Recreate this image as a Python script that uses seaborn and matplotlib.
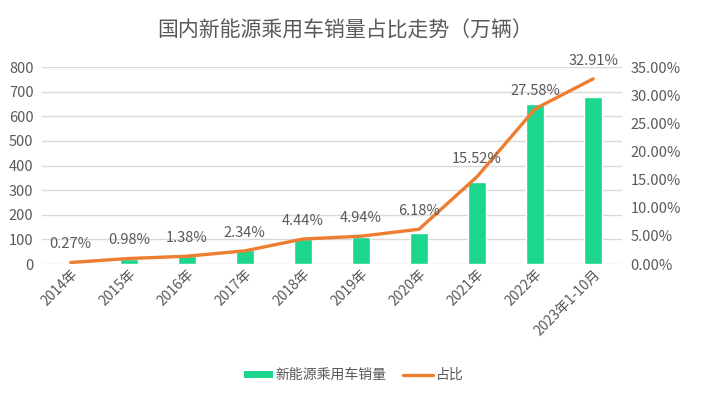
import numpy as np
import pandas as pd
import matplotlib
matplotlib.use("Agg")
import matplotlib.pyplot as plt
import seaborn as sns
from matplotlib.ticker import FuncFormatter
from matplotlib.patches import Patch
from matplotlib.lines import Line2D

# data
years = ["2014年", "2015年", "2016年", "2017年", "2018年", "2019年",
         "2020年", "2021年", "2022年", "2023年1-10月"]
sales = [5, 22, 31, 56, 100, 110, 126, 333, 649, 678]
share = [0.27, 0.98, 1.38, 2.34, 4.44, 4.94, 6.18, 15.52, 27.58, 32.91]

bar_color = "#1BD68C"
line_color = "#ED7D31"
text_color = "#595959"
grid_color = "#D9D9D9"

sns.set_theme(style="white")
plt.rcParams["font.family"] = ["Noto Sans CJK SC", "DejaVu Sans"]
plt.rcParams["axes.unicode_minus"] = False

df = pd.DataFrame({"year": years, "sales": sales, "share": share})
df["pos"] = np.arange(len(df))

fig = plt.figure(figsize=(7.07, 3.97), dpi=100)
ax = fig.add_axes([0.059, 0.335, 0.821, 0.496])

sns.barplot(data=df, x="year", y="sales", color=bar_color, width=0.31,
            saturation=1, ax=ax, zorder=2)
ax.set_ylim(0, 800)
ax.set_yticks(range(0, 801, 100))
ax.set_xlim(-0.5, len(years) - 0.5)
ax.grid(axis="y", color=grid_color, linewidth=1, zorder=0)
ax.set_axisbelow(True)
for s in ax.spines.values():
    s.set_visible(False)
ax.set_xlabel("")
ax.set_ylabel("")
ax.tick_params(axis="y", labelsize=10.5, colors=text_color, length=0, pad=6)
ax.tick_params(axis="x", labelsize=10, colors=text_color, length=0, pad=2)
plt.setp(ax.get_xticklabels(), rotation=45, ha="right", rotation_mode="anchor")

ax2 = ax.twinx()
sns.lineplot(data=df, x="pos", y="share", color=line_color, linewidth=2.4,
             ax=ax2, solid_capstyle="round")
ax2.set_ylim(0, 35)
ax2.set_yticks(range(0, 36, 5))
ax2.yaxis.set_major_formatter(FuncFormatter(lambda v, p: f"{v:.2f}%"))
ax2.tick_params(axis="y", labelsize=10.5, colors=text_color, length=0, pad=6)
for s in ax2.spines.values():
    s.set_visible(False)
ax2.set_xlabel("")
ax2.set_ylabel("")
ax2.set_xlim(-0.5, len(years) - 0.5)

for x, v in zip(df["pos"], share):
    ax2.annotate(f"{v:.2f}%", (x, v), xytext=(0, 8), textcoords="offset points",
                 ha="center", va="bottom", fontsize=10.5, color=text_color)

fig.text(0.488, 0.922, "国内新能源乘用车销量占比走势（万辆）", ha="center", va="center",
         fontsize=15, color=text_color)

handles = [Patch(facecolor=bar_color, edgecolor="none"),
           Line2D([0], [0], color=line_color, linewidth=2.4, solid_capstyle="round")]
fig.legend(handles, ["新能源乘用车销量", "占比"], loc="center",
           bbox_to_anchor=(0.5, 0.055), ncol=2, frameon=False, fontsize=10,
           labelcolor=text_color, handlelength=2.1, handleheight=0.4,
           handletextpad=0.2, columnspacing=1.2)

fig.savefig("out.png", dpi=100)
